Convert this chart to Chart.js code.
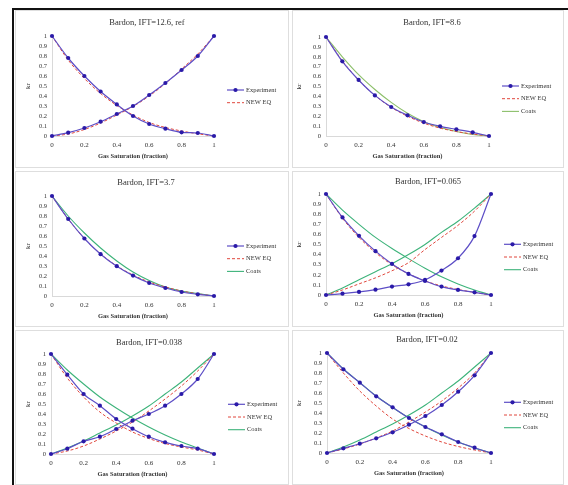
<!DOCTYPE html>
<html>
<head>
<meta charset="utf-8">
<script src="https://cdn.jsdelivr.net/npm/chart.js@4.4.1/dist/chart.umd.min.js"></script>
<style>
  body { margin: 0; background: #fff; width: 568px; height: 485px; overflow: hidden; position: relative; }
  #frame { position: absolute; left: 12px; top: 8px; width: 570px; height: 490px; border-top: 2px solid #111; border-left: 2px solid #111; }
  canvas { position: absolute; outline: 1px solid #dedede; outline-offset: -1px; }
</style>
</head>
<body>
<div id="frame"></div>
<canvas id="c1"></canvas>
<canvas id="c2"></canvas>
<canvas id="c3"></canvas>
<canvas id="c4"></canvas>
<canvas id="c5"></canvas>
<canvas id="c6"></canvas>
<script>
// gas saturation (x) and tick labels
const sat = [0, 0.1, 0.2, 0.3, 0.4, 0.5, 0.6, 0.7, 0.8, 0.9, 1];
const xTicks = ['0', '0.2', '0.4', '0.6', '0.8', '1'];
const yTicks = ['0', '0.1', '0.2', '0.3', '0.4', '0.5', '0.6', '0.7', '0.8', '0.9', '1'];

// IFT = 12.6 (ref)
const exp126Oil = [1, 0.78, 0.60, 0.445, 0.316, 0.20, 0.12, 0.073, 0.037, 0.03, 0];
const exp126Gas = [0, 0.033, 0.08, 0.143, 0.22, 0.30, 0.41, 0.53, 0.66, 0.80, 1];
const new126Oil = [1, 0.76, 0.575, 0.425, 0.305, 0.21, 0.135, 0.085, 0.05, 0.022, 0];
const new126Gas = [0, 0.02, 0.065, 0.13, 0.21, 0.295, 0.40, 0.525, 0.67, 0.82, 1];

// IFT = 8.6
const exp86Oil = [1, 0.754, 0.566, 0.41, 0.293, 0.209, 0.141, 0.098, 0.067, 0.037, 0];
const new86Oil = [1, 0.76, 0.565, 0.41, 0.29, 0.20, 0.13, 0.08, 0.045, 0.02, 0];
const coats86Oil = [1, 0.80, 0.62, 0.47, 0.34, 0.23, 0.145, 0.085, 0.045, 0.015, 0];

// IFT = 3.7
const exp37Oil = [1, 0.77, 0.575, 0.418, 0.298, 0.204, 0.13, 0.08, 0.04, 0.017, 0];
const new37Oil = [1, 0.77, 0.575, 0.42, 0.30, 0.21, 0.14, 0.09, 0.05, 0.022, 0];
const coats37Oil = [1, 0.80, 0.63, 0.48, 0.35, 0.24, 0.155, 0.09, 0.05, 0.025, 0];

// IFT = 0.065
const exp065Oil = [1, 0.768, 0.586, 0.434, 0.308, 0.209, 0.139, 0.083, 0.05, 0.026, 0];
const exp065Gas = [0, 0.013, 0.03, 0.053, 0.083, 0.106, 0.149, 0.242, 0.364, 0.583, 1];
const new065Oil = [1, 0.76, 0.57, 0.42, 0.30, 0.21, 0.14, 0.09, 0.055, 0.025, 0];
const new065Gas = [0, 0.05, 0.11, 0.17, 0.24, 0.32, 0.45, 0.57, 0.69, 0.83, 1];
const coats065Oil = [1, 0.84, 0.70, 0.57, 0.46, 0.36, 0.265, 0.18, 0.11, 0.05, 0];
const coats065Gas = [0, 0.07, 0.15, 0.23, 0.31, 0.40, 0.50, 0.62, 0.73, 0.86, 1];

// IFT = 0.038
const exp038Oil = [1, 0.793, 0.60, 0.483, 0.35, 0.253, 0.173, 0.117, 0.08, 0.053, 0];
const exp038Gas = [0, 0.053, 0.127, 0.173, 0.25, 0.333, 0.40, 0.483, 0.60, 0.75, 1];
const new038Oil = [1, 0.76, 0.57, 0.42, 0.31, 0.22, 0.155, 0.105, 0.07, 0.04, 0];
const new038Gas = [0, 0.03, 0.08, 0.15, 0.23, 0.32, 0.43, 0.55, 0.68, 0.83, 1];
const coats038Oil = [1, 0.84, 0.70, 0.57, 0.46, 0.36, 0.27, 0.19, 0.12, 0.06, 0];
const coats038Gas = [0, 0.06, 0.13, 0.21, 0.29, 0.38, 0.48, 0.60, 0.72, 0.86, 1];

// IFT = 0.02
const exp002Oil = [1, 0.837, 0.703, 0.567, 0.457, 0.35, 0.26, 0.187, 0.11, 0.053, 0];
const exp002Gas = [0, 0.047, 0.093, 0.147, 0.207, 0.283, 0.37, 0.48, 0.613, 0.777, 1];
const new002Oil = [1, 0.80, 0.62, 0.47, 0.34, 0.245, 0.17, 0.11, 0.065, 0.03, 0];
const new002Gas = [0, 0.04, 0.09, 0.15, 0.22, 0.31, 0.41, 0.52, 0.65, 0.80, 1];
const coats002Oil = [1, 0.84, 0.705, 0.57, 0.455, 0.35, 0.26, 0.18, 0.11, 0.05, 0];
const coats002Gas = [0, 0.06, 0.13, 0.21, 0.29, 0.38, 0.48, 0.60, 0.72, 0.86, 1];

const FONT = "'Liberation Serif', 'Times New Roman', serif";
const TEXT = '#333333';

// line looks for each kind of series
const looks = {
  exp:   { label: 'Experiment', borderColor: '#5d4ec6', borderWidth: 1.2, pointRadius: 2.1, pointBackgroundColor: '#2a1aa8', pointBorderColor: '#2a1aa8', pointBorderWidth: 0, order: 0 },
  neweq: { label: 'NEW EQ', borderColor: '#e0473d', borderWidth: 1, borderDash: [3, 2], pointRadius: 0, order: 1 },
  coats: { label: 'Coats', borderColor: '#3db37a', borderWidth: 1.1, pointRadius: 0, order: 2 }
};

// simple legend drawn next to the plot, from the datasets themselves
const panelLegend = {
  id: 'panelLegend',
  afterDraw(chart, args, opts) {
    const ctx = chart.ctx;
    let y = opts.y;
    ctx.save();
    chart.data.datasets.forEach(ds => {
      if (ds.inLegend === false) return;
      ctx.strokeStyle = ds.borderColor;
      ctx.lineWidth = ds.borderWidth;
      ctx.setLineDash(ds.borderDash || []);
      ctx.beginPath();
      ctx.moveTo(opts.x, y);
      ctx.lineTo(opts.x + 17, y);
      ctx.stroke();
      ctx.setLineDash([]);
      if (ds.pointRadius > 0) {
        ctx.fillStyle = ds.pointBackgroundColor;
        ctx.beginPath();
        ctx.arc(opts.x + 8.5, y, ds.pointRadius, 0, Math.PI * 2);
        ctx.fill();
      }
      ctx.fillStyle = TEXT;
      ctx.font = '6.5px ' + FONT;
      ctx.textBaseline = 'middle';
      ctx.textAlign = 'left';
      ctx.fillText(ds.label, opts.x + 19, y);
      y += opts.gap;
    });
    ctx.restore();
  }
};

const panelTitle = {
  id: 'panelTitle',
  afterDraw(chart, args, opts) {
    const ctx = chart.ctx;
    ctx.save();
    ctx.fillStyle = TEXT;
    ctx.font = '8.5px ' + FONT;
    ctx.textAlign = 'center';
    ctx.textBaseline = 'middle';
    ctx.fillText(opts.text, opts.x, opts.y);
    ctx.restore();
  }
};

function series(kind, values, inLegend) {
  return Object.assign({}, looks[kind], {
    data: sat.map((s, i) => ({ x: s, y: values[i] })),
    inLegend: inLegend,
    fill: false,
    clip: false,
    cubicInterpolationMode: 'monotone'
  });
}

function makeChart(id, p, datasets) {
  const cv = document.getElementById(id);
  cv.width = p.w; cv.height = p.h;
  cv.style.left = p.left + 'px'; cv.style.top = p.top + 'px';
  return new Chart(cv, {
    type: 'line',
    data: { datasets: datasets },
    options: {
      responsive: false,
      animation: false,
      devicePixelRatio: 1,
      layout: { padding: { left: 0, top: p.T, right: p.w - p.R, bottom: p.h - p.B - 26 } },
      plugins: {
        legend: { display: false },
        tooltip: { enabled: false },
        panelTitle: { text: p.title, x: p.tx, y: p.ty },
        panelLegend: { x: p.lx, y: p.ly, gap: 12.7 }
      },
      scales: {
        x: {
          type: 'linear', min: 0, max: 1,
          grid: { display: false, drawTicks: false },
          border: { display: true, color: '#d9d9d9' },
          ticks: { stepSize: 0.2, padding: 5, autoSkip: false, maxRotation: 0, color: TEXT, font: { family: FONT, size: 7 },
                   callback: v => xTicks[Math.round(v / 0.2)] },
          title: { display: true, text: 'Gas Saturation (fraction)', color: TEXT,
                   font: { family: FONT, size: 6.5, weight: 'bold' }, padding: { top: 0, bottom: 2 } },
          afterFit: s => { s.height = 26; }
        },
        y: {
          min: 0, max: 1,
          grid: { display: false, drawTicks: false },
          border: { display: true, color: '#d9d9d9' },
          ticks: { stepSize: 0.1, padding: 5, autoSkip: false, color: TEXT, font: { family: FONT, size: 6.5 },
                   callback: v => yTicks[Math.round(v * 10)] },
          title: { display: true, text: 'kr', color: TEXT,
                   font: { family: FONT, size: 7 }, padding: { top: p.kx, bottom: 0 } },
          afterFit: s => { s.width = p.L; }
        }
      }
    },
    plugins: [panelTitle, panelLegend]
  });
}

makeChart('c1', { left: 15, top: 10, w: 274, h: 158, L: 37, R: 199, T: 26, B: 126, kx: 9,
  title: 'Bardon, IFT=12.6, ref', tx: 132, ty: 13, lx: 212, ly: 80 }, [
  series('exp', exp126Oil, true), series('exp', exp126Gas, false),
  series('neweq', new126Oil, true), series('neweq', new126Gas, false)
]);

makeChart('c2', { left: 292, top: 10, w: 272, h: 158, L: 34, R: 197, T: 27, B: 126, kx: 3,
  title: 'Bardon, IFT=8.6', tx: 140, ty: 13, lx: 210, ly: 76 }, [
  series('exp', exp86Oil, true),
  series('neweq', new86Oil, true),
  Object.assign(series('coats', coats86Oil, true), { borderColor: '#8cbf6a' })
]);

makeChart('c3', { left: 15, top: 171, w: 274, h: 156, L: 37, R: 199, T: 25, B: 125, kx: 9,
  title: 'Bardon, IFT=3.7', tx: 131, ty: 12, lx: 212, ly: 75 }, [
  series('exp', exp37Oil, true),
  series('neweq', new37Oil, true),
  series('coats', coats37Oil, true)
]);

makeChart('c4', { left: 292, top: 171, w: 272, h: 156, L: 34, R: 199, T: 23, B: 124, kx: 3,
  title: 'Bardon, IFT=0.065', tx: 136, ty: 11, lx: 212, ly: 73.3 }, [
  series('exp', exp065Oil, true), series('exp', exp065Gas, false),
  series('neweq', new065Oil, true), series('neweq', new065Gas, false),
  series('coats', coats065Oil, true), series('coats', coats065Gas, false)
]);

makeChart('c5', { left: 15, top: 330, w: 274, h: 155, L: 36, R: 199, T: 24, B: 124, kx: 9,
  title: 'Bardon, IFT=0.038', tx: 134, ty: 13, lx: 213, ly: 74.3 }, [
  series('exp', exp038Oil, true), series('exp', exp038Gas, false),
  series('neweq', new038Oil, true), series('neweq', new038Gas, false),
  series('coats', coats038Oil, true), series('coats', coats038Gas, false)
]);

makeChart('c6', { left: 292, top: 330, w: 272, h: 155, L: 35, R: 199, T: 23, B: 123, kx: 3,
  title: 'Bardon, IFT=0.02', tx: 135, ty: 10, lx: 212, ly: 72.3 }, [
  series('exp', exp002Oil, true), series('exp', exp002Gas, false),
  series('neweq', new002Oil, true), series('neweq', new002Gas, false),
  series('coats', coats002Oil, true), series('coats', coats002Gas, false)
]);
</script>
</body>
</html>
